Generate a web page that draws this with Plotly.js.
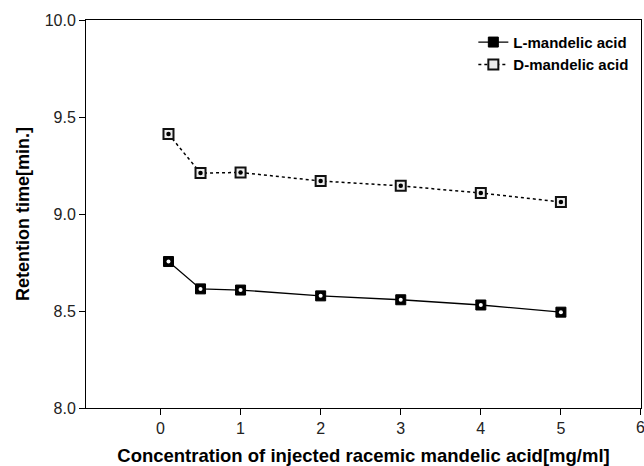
<!DOCTYPE html>
<html><head><meta charset="utf-8">
<script src="https://cdn.plot.ly/plotly-3.0.1.min.js"></script>
<style>html,body{margin:0;padding:0;background:#fff}#chart{width:644px;height:466px}</style>
</head><body><div id="chart"></div>
<script>
const concentration = [0.1, 0.5, 1, 2, 3, 4, 5];
const lMandelic = [8.755, 8.614, 8.608, 8.578, 8.558, 8.531, 8.494];
const dMandelic = [9.412, 9.211, 9.214, 9.170, 9.145, 9.108, 9.062];
const xTicks = [0, 1, 2, 3, 4, 5, 6];
const yTicks = [8.0, 8.5, 9.0, 9.5, 10.0];

const FONT = 'Liberation Sans, Arial, sans-serif';
const traces = [
  {x: concentration, y: lMandelic, name: 'L-mandelic acid', mode: 'lines+markers',
   line: {color: '#000', width: 1.3},
   marker: {symbol: 'square', size: 10, color: '#000', line: {color: '#000', width: 1}}},
  {x: concentration, y: dMandelic, name: 'D-mandelic acid', mode: 'lines+markers',
   line: {color: '#000', width: 1.5, dash: 'dot'},
   marker: {symbol: 'square', size: 10, color: '#eee', line: {color: '#111', width: 2}}},
  {x: concentration, y: lMandelic, mode: 'markers', showlegend: false, hoverinfo: 'skip',
   marker: {symbol: 'circle', size: 4, color: '#fff', line: {width: 0}}},
  {x: concentration, y: dMandelic, mode: 'markers', showlegend: false, hoverinfo: 'skip',
   marker: {symbol: 'circle', size: 4.5, color: '#000', line: {width: 0}}}
];

const lastTick = xTicks[xTicks.length - 1];
const layout = {
  width: 644, height: 466,
  margin: {l: 86, r: 3, t: 20, b: 58},
  paper_bgcolor: '#fff', plot_bgcolor: '#fff',
  font: {family: FONT, color: '#000', size: 16},
  showlegend: true,
  legend: {x: 0.988, y: 0.985, xanchor: 'right', yanchor: 'top', bgcolor: 'rgba(0,0,0,0)',
    font: {size: 15, family: FONT, weight: 'bold'}, tracegroupgap: 0},
  xaxis: {range: [-0.93, 6.0001], tickvals: xTicks, ticktext: xTicks.map(String),
    ticks: 'outside', ticklen: 6, tickwidth: 1, tickcolor: '#000',
    showline: true, linecolor: '#000', linewidth: 1, mirror: true,
    showgrid: false, zeroline: false, tickfont: {size: 16, color: '#222'},
    title: {text: 'Concentration of injected racemic mandelic acid[mg/ml]', standoff: 15,
      font: {size: 18.5, weight: 'bold', family: FONT}}},
  yaxis: {range: [8.0, 10.0], tickvals: yTicks, ticktext: yTicks.map(v => v.toFixed(1)),
    ticks: 'outside', ticklen: 6, tickwidth: 1, tickcolor: '#000',
    showline: true, linecolor: '#000', linewidth: 1, mirror: true,
    showgrid: false, zeroline: false, tickfont: {size: 16, color: '#222'},
    title: {text: 'Retention time[min.]', standoff: 10,
      font: {size: 18, weight: 'bold', family: FONT}}},
  annotations: [{x: lastTick, xref: 'x', y: 0, yref: 'paper', yanchor: 'top', yshift: -9,
    xanchor: 'center', showarrow: false, text: String(lastTick),
    font: {size: 16, color: '#222', family: FONT}}]
};

Plotly.newPlot('chart', traces, layout, {displayModeBar: false, staticPlot: true});
</script></body></html>
